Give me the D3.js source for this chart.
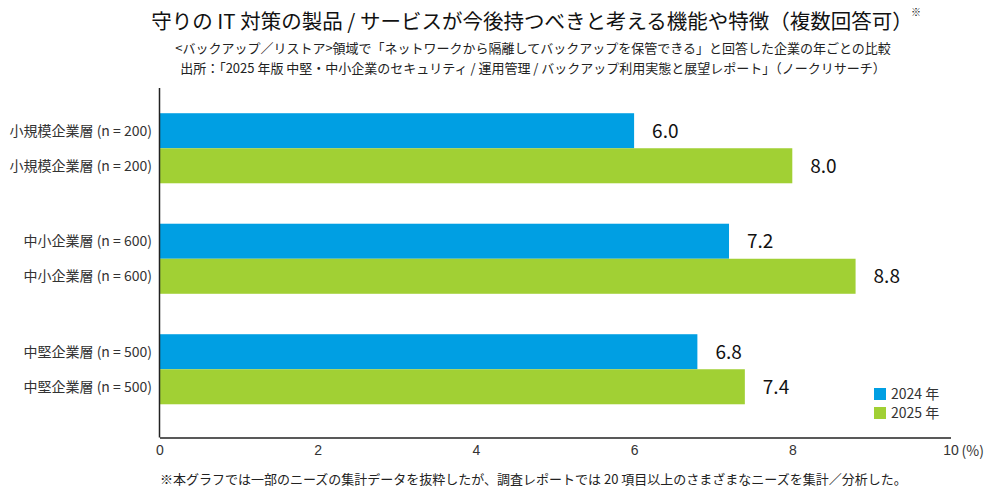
<!DOCTYPE html>
<html>
<head>
<meta charset="utf-8">
<script src="https://cdn.jsdelivr.net/npm/d3@7"></script>
<style>
  body { margin: 0; background: #fff; }
  svg { font-family: "Noto Sans CJK JP", "Noto Sans", sans-serif; }
</style>
</head>
<body>
<div id="chart"></div>
<script>
const groups = ["小規模企業層 (n = 200)", "中小企業層 (n = 600)", "中堅企業層 (n = 500)"];
const years = ["2024 年", "2025 年"];
const values2024 = [6.0, 7.2, 6.8];
const values2025 = [8.0, 8.8, 7.4];
const xTicks = [0, 2, 4, 6, 8, 10];
const colors = ["#009fe3", "#a1d034"];

const W = 1000, H = 499;
const svg = d3.select("#chart").append("svg").attr("width", W).attr("height", H);

const x = d3.scaleLinear().domain([0, 10]).range([159.5, 950.5]);
const y = d3.scaleBand().domain(groups).range([93, 424.5]).paddingInner(0.366).paddingOuter(0.183);
const ySub = d3.scaleBand().domain(years).range([0, y.bandwidth()]);

// title
svg.append("text").attr("x", 532).attr("y", 29).attr("text-anchor", "middle")
   .attr("font-size", 20.5).attr("fill", "#111")
   .text("守りの IT 対策の製品 / サービスが今後持つべきと考える機能や特徴（複数回答可）");
svg.append("text").attr("x", 911).attr("y", 16).attr("font-size", 10).attr("fill", "#111").text("※");
svg.append("text").attr("x", 533).attr("y", 53).attr("text-anchor", "middle")
   .attr("font-size", 13).attr("fill", "#222")
   .text("<バックアップ／リストア>領域で「ネットワークから隔離してバックアップを保管できる」と回答した企業の年ごとの比較");
svg.append("text").attr("x", 533).attr("y", 73).attr("text-anchor", "middle")
   .attr("font-size", 13).attr("fill", "#222")
   .text("出所：「2025 年版 中堅・中小企業のセキュリティ / 運用管理 / バックアップ利用実態と展望レポート」（ノークリサーチ）");

const rows = [];
groups.forEach((g, i) => {
  rows.push({ group: g, year: years[0], value: values2024[i], color: colors[0] });
  rows.push({ group: g, year: years[1], value: values2025[i], color: colors[1] });
});

// bars
svg.append("g").selectAll("rect").data(rows).enter().append("rect")
   .attr("x", x(0))
   .attr("y", d => y(d.group) + ySub(d.year))
   .attr("width", d => x(d.value) - x(0))
   .attr("height", ySub.bandwidth())
   .attr("fill", d => d.color);

// value labels
svg.append("g").selectAll("text").data(rows).enter().append("text")
   .attr("x", d => x(d.value) + 18)
   .attr("y", d => y(d.group) + ySub(d.year) + ySub.bandwidth() / 2)
   .attr("dy", "0.36em")
   .attr("font-size", 19).attr("fill", "#111")
   .text(d => d3.format(".1f")(d.value));

// category labels
svg.append("g").selectAll("text").data(rows).enter().append("text")
   .attr("x", 152)
   .attr("y", d => y(d.group) + ySub(d.year) + ySub.bandwidth() / 2)
   .attr("dy", "0.36em")
   .attr("text-anchor", "end")
   .attr("font-size", 14).attr("fill", "#333")
   .text(d => d.group);

// axes
svg.append("line").attr("x1", x(0)).attr("x2", x(0)).attr("y1", 88).attr("y2", 437.5)
   .attr("stroke", "#222").attr("stroke-width", 1.5);
const xAxis = svg.append("g").attr("transform", "translate(0,437.5)")
   .call(d3.axisBottom(x).tickValues(xTicks).tickSize(0).tickPadding(8).tickFormat(d3.format("d")));
xAxis.select(".domain").attr("stroke", "#222").attr("stroke-width", 1.5);
xAxis.selectAll("text").attr("font-size", 14).attr("fill", "#333").attr("font-family", "inherit");
svg.append("text").attr("x", x(10) + 11).attr("y", 456).attr("font-size", 14).attr("fill", "#333").text("(%)");

// legend
const legend = svg.append("g").selectAll("g").data(years).enter().append("g")
   .attr("transform", (d, i) => `translate(874,${388 + i * 19})`);
legend.append("rect").attr("width", 12).attr("height", 12).attr("fill", (d, i) => colors[i]);
legend.append("text").attr("x", 17).attr("y", 6).attr("dy", "0.36em")
   .attr("font-size", 14).attr("fill", "#333").text(d => d);

// footnote
svg.append("text").attr("x", 160).attr("y", 484).attr("font-size", 13).attr("fill", "#222")
   .text("※本グラフでは一部のニーズの集計データを抜粋したが、調査レポートでは 20 項目以上のさまざまなニーズを集計／分析した。");
</script>
</body>
</html>
